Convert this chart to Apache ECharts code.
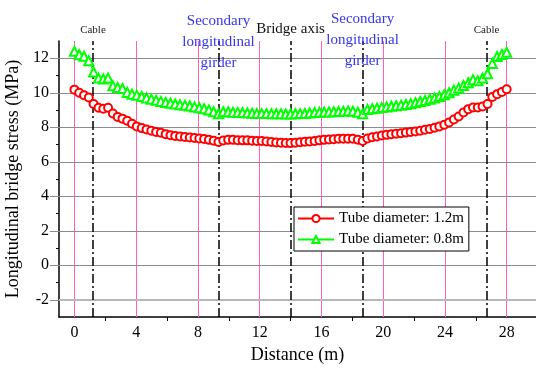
<!DOCTYPE html>
<html>
<head>
<meta charset="utf-8">
<script src="https://cdn.jsdelivr.net/npm/echarts@6/dist/echarts.min.js"></script>
<style>
html,body{margin:0;padding:0;background:#fff;}
#main{width:536px;height:369px;}
</style>
</head>
<body>
<div id="main"></div>
<script>
// distance along the section (m), 91 nodes over 28 m
var STEP = 28 / 90;
var distance = [];
for (var i = 0; i <= 90; i++) distance.push(Math.round(i * STEP * 100) / 100);

// tube diameter 1.2m
var stress12 = [10.18,10.0,9.86,9.72,9.35,9.13,9.07,9.13,8.8,8.6,
    8.5,8.38,8.2,8.05,7.95,7.87,7.8,7.73,7.68,7.6,
    7.54,7.5,7.46,7.43,7.41,7.38,7.35,7.32,7.27,7.22,
    7.14,7.23,7.27,7.27,7.25,7.24,7.24,7.22,7.21,7.2,
    7.17,7.14,7.12,7.1,7.09,7.08,7.1,7.13,7.16,7.18,
    7.21,7.24,7.27,7.29,7.31,7.33,7.34,7.34,7.33,7.28,
    7.2,7.35,7.42,7.46,7.52,7.56,7.59,7.62,7.65,7.69,
    7.72,7.76,7.8,7.85,7.9,7.97,8.05,8.15,8.28,8.45,
    8.62,8.85,9.05,9.14,9.15,9.2,9.35,9.75,9.92,10.05,
    10.2];
// tube diameter 0.8m
var stress08 = [12.4,12.2,12.12,11.85,11.2,10.85,10.8,10.85,10.4,10.3,
    10.25,10.02,9.92,9.86,9.78,9.7,9.63,9.56,9.5,9.44,
    9.39,9.35,9.3,9.27,9.23,9.18,9.13,9.07,9.0,8.9,
    8.78,8.9,8.9,8.87,8.86,8.85,8.83,8.81,8.8,8.79,
    8.79,8.78,8.78,8.78,8.77,8.77,8.78,8.79,8.8,8.83,
    8.85,8.87,8.88,8.89,8.9,8.91,8.93,8.95,8.93,8.87,
    8.78,9.03,9.07,9.1,9.14,9.18,9.22,9.25,9.28,9.32,
    9.36,9.42,9.49,9.55,9.62,9.7,9.78,9.88,10.0,10.15,
    10.28,10.42,10.58,10.75,10.7,10.85,11.1,11.7,12.1,12.22,
    12.35];

var xMajor = [0,4,8,12,16,20,24,28];
var xMinor = [2,6,10,14,18,22,26];
var yMajor = [-2,0,2,4,6,8,10,12];
var yMinor = [-1,1,3,5,7,9,11];

// reference lines: cables, secondary girders, bridge axis
var refLines = [1.2, 28/3, 14, 56/3, 26.7];
var refLabels = [
    {x:1.2, text:'Cable', color:'#222', size:11, y:30},
    {x:28/3, text:'Secondary\nlongitudinal\ngirder', color:'#3535f0', size:15, y:42},
    {x:14, text:'Bridge axis', color:'#111', size:15, y:29},
    {x:56/3, text:'Secondary\nlongitudinal\ngirder', color:'#3535f0', size:15, y:40},
    {x:26.7, text:'Cable', color:'#222', size:11, y:30}
];

var FONT = 'Liberation Serif';

function pair(xs, ys){
    var out=[];
    for(var i=0;i<ys.length;i++) out.push([xs[i], ys[i]]);
    return out;
}

var chart = echarts.init(document.getElementById('main'), null, {renderer:'canvas'});

var markData = [];
xMajor.forEach(function(v){
    markData.push({xAxis:v, lineStyle:{color:'#ff5fb4', width:1, type:'solid'}});
});
yMajor.forEach(function(v){
    markData.push({yAxis:v, lineStyle:{color:v==-2?'#b8b8b8':'#8c8c8c', width:v==-2?2:1, type:'solid'}});
});
refLines.forEach(function(v){
    markData.push({xAxis:v, lineStyle:{color:'#000', width:1.5, type:[9,3,2,3]}});
});

var option = {
    animation:false,
    backgroundColor:'#fff',
    grid:{left:59, right:0, top:41, bottom:52, containLabel:false, outerBoundsMode:'none'},
    legend:{
        data:['Tube diameter: 1.2m','Tube diameter: 0.8m'],
        orient:'vertical',
        left:294, top:207, z:20,
        backgroundColor:'#fff',
        borderColor:'#000', borderWidth:1,
        padding:[4,5,4,3],
        itemGap:6,
        itemWidth:36, itemHeight:9,
        textStyle:{fontFamily:FONT, fontSize:15, color:'#000'}
    },
    xAxis:[{
        type:'value', min:-1, max:29.9,
        name:'Distance (m)', nameLocation:'middle', nameGap:29,
        nameTextStyle:{fontFamily:FONT, fontSize:18, color:'#000'},
        axisLine:{show:true, onZero:false, lineStyle:{color:'#000', width:1.5}},
        axisTick:{show:false},
        axisLabel:{customValues:xMajor, margin:8, fontFamily:FONT, fontSize:16, color:'#000'},
        splitLine:{show:false}
    },{
        type:'value', min:-1, max:29.9, position:'bottom', offset:0,
        axisLine:{show:false, onZero:false},
        axisTick:{show:true, customValues:xMinor, length:4, lineStyle:{color:'#000'}},
        axisLabel:{show:false},
        splitLine:{show:false}
    }],
    yAxis:[{
        type:'value', min:-3, max:13,
        name:'Longitudinal bridge stress (MPa)', nameLocation:'middle', nameGap:32,
        nameTextStyle:{fontFamily:FONT, fontSize:18, color:'#000'},
        axisLine:{show:true, onZero:false, lineStyle:{color:'#000', width:1.5}},
        axisTick:{show:true, customValues:yMajor, length:9, lineStyle:{color:'#8c8c8c'}},
        axisLabel:{customValues:yMajor, margin:10, fontFamily:FONT, fontSize:16, color:'#000'},
        splitLine:{show:false}
    },{
        type:'value', min:-3, max:13, position:'left', offset:0,
        axisLine:{show:false, onZero:false},
        axisTick:{show:true, customValues:yMinor, length:3, lineStyle:{color:'#000'}},
        axisLabel:{show:false},
        splitLine:{show:false}
    }],
    series:[{
        name:'refs', type:'line', data:[], z:1, silent:true,
        markLine:{silent:true, z:1, symbol:'none', animation:false, label:{show:false}, data:markData}
    },{
        name:'Tube diameter: 1.2m', type:'line', z:3,
        data:pair(distance, stress12),
        symbol:'emptyCircle', symbolSize:8, showAllSymbol:true,
        itemStyle:{color:'#ff0000', borderWidth:1},
        lineStyle:{color:'#ff0000', width:1}
    },{
        name:'Tube diameter: 0.8m', type:'line', z:3,
        data:pair(distance, stress08),
        symbol:'emptyTriangle', symbolSize:9, showAllSymbol:true,
        itemStyle:{color:'#00ff00', borderWidth:1},
        lineStyle:{color:'#00ff00', width:1}
    }]
};
chart.setOption(option);

var texts = refLabels.map(function(l){
    var px = chart.convertToPixel({xAxisIndex:0}, l.x);
    return {
        type:'text', x:px, y:l.y, z:10,
        style:{text:l.text, fill:l.color, font:l.size+'px "'+FONT+'"',
            align:'center', verticalAlign:'middle', lineHeight:21}
    };
});
chart.setOption({graphic:texts});
</script>
</body>
</html>
